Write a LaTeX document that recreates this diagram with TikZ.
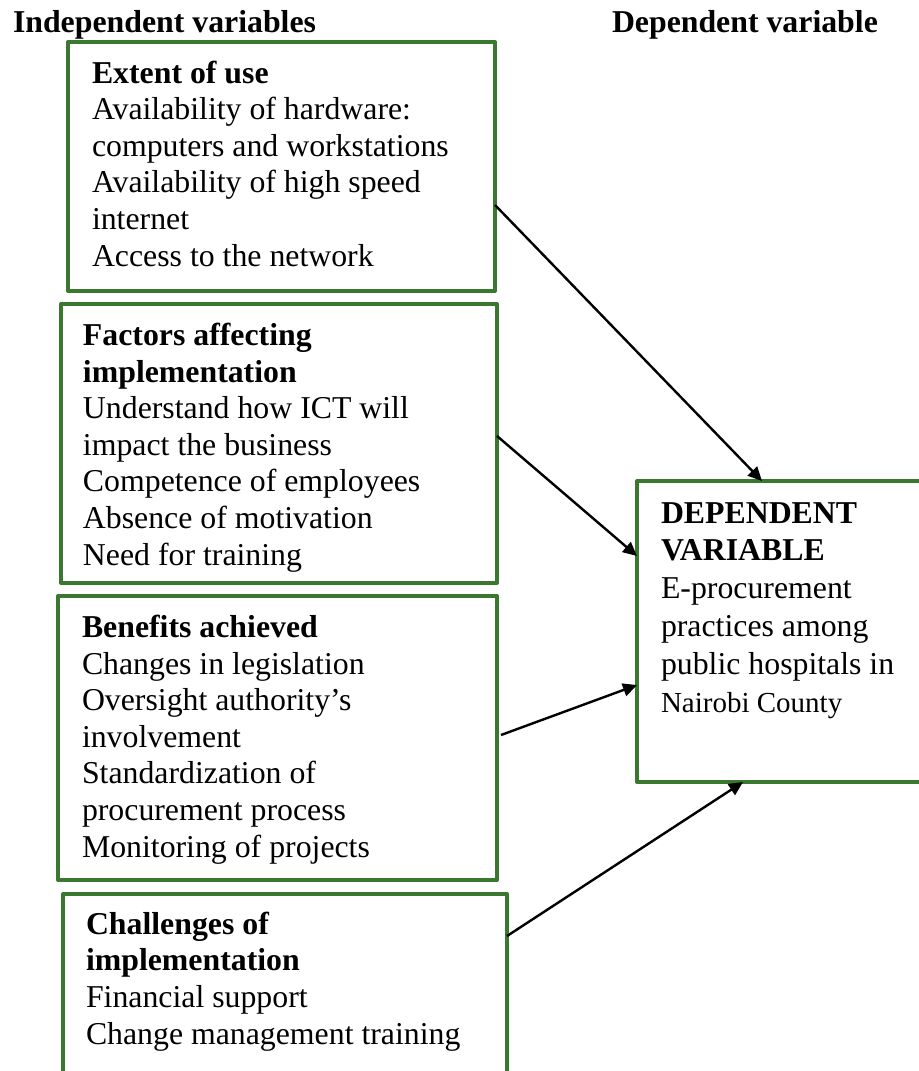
\documentclass[tikz,border=0pt]{standalone}
\usepackage{fontspec}
\setmainfont{Liberation Serif}
\usetikzlibrary{arrows.meta,calc}
\definecolor{boxgreen}{RGB}{58,120,48}
\tikzset{
  box/.style={draw=boxgreen, line width=2pt, line join=round, rectangle, inner sep=0pt, outer sep=0pt, anchor=north west},
  txt/.style={inner sep=0pt, outer sep=0pt, anchor=base west, align=left, font=\fontsize{15.9}{18.3}\selectfont},
  deptxt/.style={inner sep=0pt, outer sep=0pt, anchor=base west, align=left, font=\fontsize{15.9}{18.9}\selectfont},
  hdr/.style={inner sep=0pt, outer sep=0pt, anchor=base west, font=\fontsize{15.9}{18.3}\selectfont\bfseries},
  conn/.style={line width=1.2pt, -{Triangle[length=7pt,width=6.5pt]}}
}
\begin{document}
\begin{tikzpicture}[x=0.5pt,y=-0.5pt]
\useasboundingbox (0,0) rectangle (919,1071);
\clip (0,0) rectangle (919,1071);
\fill[white] (0,0) rectangle (919,1071);
% headers
\node[hdr] (hind) at (13,32) {Independent variables};
\node[hdr] (hdep) at (612,32) {Dependent variable};
% boxes
\node[box, minimum width=213.5pt, minimum height=124.5pt] (b1) at (68,42) {};
\node[box, minimum width=218pt, minimum height=139.5pt] (b2) at (61,304) {};
\node[box, minimum width=219.5pt, minimum height=142pt] (b3) at (58,596) {};
\node[box, minimum width=222pt, minimum height=110pt] (b4) at (63,894) {};
\node[box, minimum width=160pt, minimum height=150.5pt] (dep) at (637,481) {};
% texts (anchored at the baseline of the last line)
\node[txt] (t1) at (92,266) {\textbf{Extent of use}\\Availability of hardware:\\computers and workstations\\Availability of high speed\\internet\\Access to the network};
\node[txt] (t2) at (83,565) {\textbf{Factors affecting}\\\textbf{implementation}\\Understand how ICT will\\impact the business\\Competence of employees\\Absence of motivation\\Need for training};
\node[txt] (t3) at (82,857) {\textbf{Benefits achieved}\\Changes in legislation\\Oversight authority’s\\involvement\\Standardization of\\procurement process\\Monitoring of projects};
\node[txt] (t4) at (86,1044) {\textbf{Challenges of}\\\textbf{implementation}\\Financial support\\Change management training};
\node[deptxt] (t5) at (661,712) {\textbf{DEPENDENT}\\\textbf{VARIABLE}\\E-procurement\\practices among\\public hospitals in\\{\fontsize{14.5}{18.9}\selectfont Nairobi County}};
% connectors
\draw[conn] ([yshift=-81.5pt]b1.north east) -- ([xshift=62.5pt]dep.north west);
\draw[conn] ([yshift=-66pt]b2.north east) -- ([yshift=-37.5pt]dep.north west);
\draw[conn] ([xshift=2pt,yshift=-69.5pt]b3.north east) -- ([yshift=-102pt]dep.north west);
\draw[conn] ([yshift=-21pt]b4.north east) -- ([xshift=53pt]dep.south west);
\end{tikzpicture}
\end{document}
